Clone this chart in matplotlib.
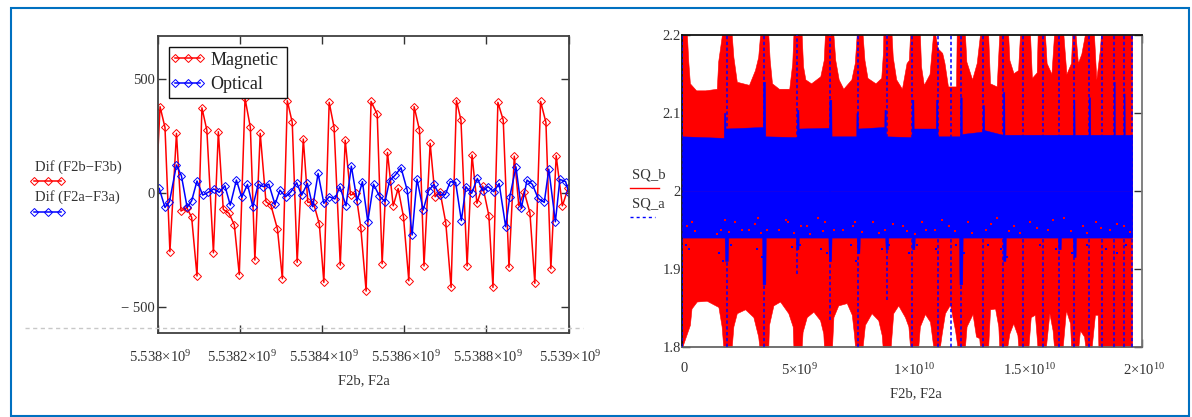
from matplotlib import pyplot as plt
from matplotlib.lines import Line2D
from matplotlib.patches import Rectangle
from matplotlib.transforms import ScaledTranslation

plt.rcParams['font.family'] = ['Liberation Serif', 'DejaVu Serif']
plt.rcParams['mathtext.default'] = 'regular'

W, H = 1192, 417
TEXT = '#333333'

# left chart, x is kHz above 5.538 GHz
red_x = [-13, 5, 17, 29, 45, 56, 70, 82, 95, 107, 119, 135, 147, 159, 173, 186, 198, 212, 225, 236, 249,
         263, 275, 291, 303, 315, 327, 339, 354, 365, 378, 393, 404, 417, 429, 444, 456, 469, 482, 494,
         507, 519, 534, 546, 559, 573, 585, 598, 611, 624, 637, 648, 663, 675, 687, 701, 714, 727, 738,
         753, 765, 777, 791, 806, 816, 828, 841, 855, 868, 879, 892, 906, 918, 932, 945, 957, 970, 985, 999]
red_y = [-300, 379, 288, -257, 262, -79, -64, -107, -364, 374, 276, -262, 269, -72, -89, -140, -358, 415, 288, -294, 262,
         -38, -53, -158, -376, 405, 310, -304, 237, -41, -38, -136, -392, 398, 287, -316, 232, -9, -1, -152,
         -430, 402, 346, -310, 178, -56, 20, -104, -385, 379, 276, -320, 218, -16, 6, -130, -414, 406, 320,
         -320, 167, -45, 31, -99, -414, 398, 320, -326, 162, -56, 6, -86, -396, 402, 310, -332, 164, -56, 20]

blue_x = [3, 17, 28, 45, 57, 71, 82, 95, 109, 122, 136, 149, 163, 176, 191, 204, 218, 231, 244, 257,
          270, 285, 297, 311, 324, 338, 350, 364, 377, 390, 404, 417, 431, 443, 458, 471, 485, 498,
          511, 525, 539, 553, 564, 578, 592, 607, 619, 631, 646, 659, 672, 686, 700, 712, 725, 739,
          750, 764, 778, 791, 804, 818, 831, 847, 857, 872, 885, 899, 912, 926, 941, 952, 968, 979, 993, 1001]
blue_y = [20, -63, -38, 123, 76, -63, -34, 53, -9, 3, 18, 3, 32, -53, 57, -19, 38, -60, 39, 28,
          39, -50, 13, -16, 6, 45, -9, 42, -60, 86, -45, -16, -26, 28, -56, 118, -34, 50,
          -126, 39, -12, -38, 54, 79, 111, 13, -184, 61, -75, 10, 38, -9, -6, 50, 47, -121,
          28, -1, 64, 10, 28, 6, 42, -148, -16, 115, -67, 57, 38, -23, -41, 105, -126, 60, 50, -1]

left_xticks = [0, 200, 400, 600, 800, 1000]
left_xlabels = ['5.538×10$^{9}$', '5.5382×10$^{9}$', '5.5384×10$^{9}$', '5.5386×10$^{9}$', '5.5388×10$^{9}$', '5.539×10$^{9}$']
left_yticks = [-500, 0, 500]
left_ylabels = ['− 500', '0', '500']

# right chart, x is GHz
upper_x = [0, 0.2, 0.26, 0.33, 0.6, 1.0, 1.5, 1.56, 1.72, 2.15, 2.22, 2.37, 2.9, 3.16, 3.3, 3.38, 3.74, 3.8, 3.9, 4.2,
           4.65, 4.78, 4.83, 5.19, 5.25, 5.35, 5.6, 6.0, 6.15, 6.2, 6.57, 6.65, 6.8, 7.0, 7.35, 7.5, 7.58, 7.84, 7.92,
           8.05, 8.4, 8.65, 8.72, 8.74, 9.1, 9.15, 9.3, 9.55, 9.75, 9.85, 9.9, 10.33, 10.38, 10.5, 10.75, 10.9, 11.0,
           11.1, 11.3, 11.4, 11.55, 11.9, 11.93, 12.29, 12.35, 12.6, 12.8, 12.94, 13.3, 13.38, 13.67, 13.74, 13.78,
           14.17, 14.22, 14.4, 14.6, 14.68, 15.12, 15.2, 15.41, 15.45, 15.77, 15.84, 16.05, 16.16, 16.57, 16.7, 16.9,
           16.95, 17.1, 17.2, 17.35, 17.5, 17.9, 18.0, 18.15, 18.2, 19.56]
upper_y = [2.2, 2.2, 2.166, 2.138, 2.129, 2.129, 2.131, 2.166, 2.2, 2.2, 2.172, 2.14, 2.136, 2.155, 2.172, 2.2, 2.2, 2.168, 2.138, 2.131,
           2.131, 2.164, 2.2, 2.2, 2.16, 2.143, 2.138, 2.147, 2.168, 2.2, 2.2, 2.168, 2.143, 2.131, 2.143, 2.164, 2.2, 2.2, 2.168,
           2.145, 2.138, 2.145, 2.176, 2.2, 2.2, 2.172, 2.143, 2.131, 2.164, 2.168, 2.2, 2.2, 2.16, 2.136, 2.15, 2.2, 2.2,
           2.183, 2.177, 2.164, 2.134, 2.134, 2.2, 2.2, 2.166, 2.143, 2.164, 2.2, 2.2, 2.138, 2.134, 2.176, 2.2,
           2.2, 2.168, 2.151, 2.155, 2.2, 2.2, 2.145, 2.152, 2.2, 2.2, 2.164, 2.15, 2.2, 2.2, 2.15, 2.164,
           2.2, 2.2, 2.164, 2.176, 2.2, 2.2, 2.143, 2.18, 2.2, 2.2]

lower_x = [0, 0.33, 0.4, 0.63, 1.06, 1.57, 1.71, 1.78, 2.15, 2.22, 2.37, 2.73, 3.09, 3.3, 3.35, 3.74, 3.77, 3.96, 4.25, 4.61, 4.8, 4.83,
           5.19, 5.23, 5.41, 5.7, 5.99, 6.13, 6.16, 6.51, 6.57, 6.78, 7.15, 7.37, 7.46, 7.51, 7.84, 7.94, 8.23, 8.52, 8.67, 8.71,
           9.06, 9.17, 9.39, 9.68, 9.83, 9.9, 10.26, 10.33, 10.55, 10.77, 10.91, 11.2, 11.28, 11.42, 11.64, 11.86, 11.96,
           12.29, 12.36, 12.62, 12.77, 12.91, 12.94, 13.3, 13.38, 13.6, 13.74, 13.78, 14.13, 14.22, 14.39, 14.57, 14.61,
           15.05, 15.15, 15.33, 15.44, 15.81, 15.96, 16.1, 16.16, 16.54, 16.68, 16.86, 16.9, 17.22, 17.29, 17.47, 17.52,
           17.8, 17.94, 18.06, 18.09, 19.56]
lower_y = [1.8, 1.828, 1.849, 1.858, 1.859, 1.851, 1.826, 1.8, 1.8, 1.826, 1.843, 1.848, 1.838, 1.813, 1.8, 1.8, 1.828, 1.853, 1.858, 1.843, 1.826, 1.8,
           1.8, 1.819, 1.838, 1.845, 1.834, 1.817, 1.8, 1.8, 1.838, 1.853, 1.856, 1.841, 1.817, 1.8, 1.8, 1.828, 1.843, 1.834, 1.815, 1.8,
           1.8, 1.843, 1.853, 1.838, 1.826, 1.8, 1.8, 1.826, 1.842, 1.832, 1.8, 1.8, 1.817, 1.843, 1.854, 1.821, 1.8,
           1.8, 1.826, 1.842, 1.813, 1.811, 1.8, 1.8, 1.848, 1.849, 1.826, 1.8, 1.8, 1.817, 1.83, 1.815, 1.8,
           1.8, 1.838, 1.841, 1.8, 1.8, 1.843, 1.821, 1.8, 1.8, 1.847, 1.83, 1.8, 1.8, 1.821, 1.813, 1.8,
           1.8, 1.841, 1.841, 1.8, 1.8]

band_top_x = [0, 1.8, 1.81, 1.87, 1.88, 3.5, 3.51, 3.6, 3.61, 4.97, 4.98, 5.05, 5.06, 6.38, 6.39, 6.48, 6.49, 7.56, 7.57, 7.63, 7.64, 8.78, 8.79, 8.85, 8.86,
              9.97, 9.98, 10.05, 10.06, 11.02, 11.03, 11.09, 11.1, 12.07, 12.08, 12.15, 12.16, 13.05, 13.06, 13.12, 13.13, 13.93, 13.94, 14.0, 14.01,
              16.99, 17.0, 17.05, 17.06, 17.66, 17.67, 17.73, 17.74, 18.75, 18.76, 18.8, 18.81, 19.18, 19.19, 19.23, 19.24, 19.56]
band_top_y = [2.07, 2.068, 2.1, 2.1, 2.08, 2.082, 2.14, 2.14, 2.07, 2.069, 2.104, 2.104, 2.08, 2.081, 2.117, 2.117, 2.07, 2.07, 2.1, 2.1, 2.08, 2.082, 2.104, 2.104, 2.07,
              2.069, 2.117, 2.117, 2.08, 2.08, 2.117, 2.117, 2.07, 2.07, 2.12, 2.12, 2.073, 2.076, 2.11, 2.11, 2.078, 2.072, 2.127, 2.127, 2.072,
              2.072, 2.117, 2.117, 2.072, 2.072, 2.12, 2.12, 2.072, 2.072, 2.14, 2.14, 2.072, 2.072, 2.125, 2.125, 2.072, 2.072]
band_low_x = [0, 1.84, 1.86, 1.98, 2.0, 3.47, 3.49, 3.61, 3.63, 4.93, 4.95, 5.05, 5.07, 6.35, 6.37, 6.47, 6.49, 7.58, 7.6, 7.7, 7.72, 8.82, 8.84, 8.94, 8.96,
              9.97, 9.99, 10.09, 10.11, 12.03, 12.05, 12.17, 12.19, 13.93, 13.95, 14.05, 14.07, 16.33, 16.35, 16.45, 16.47, 16.98, 17.0, 17.1, 17.12, 19.56]
band_low_y = [1.94, 1.94, 1.91, 1.91, 1.94, 1.94, 1.88, 1.88, 1.94, 1.94, 1.925, 1.925, 1.94, 1.94, 1.91, 1.91, 1.94, 1.94, 1.92, 1.92, 1.94, 1.94, 1.925, 1.925, 1.94,
              1.94, 1.925, 1.925, 1.94, 1.94, 1.88, 1.88, 1.94, 1.94, 1.91, 1.91, 1.94, 1.94, 1.925, 1.925, 1.94, 1.94, 1.915, 1.915, 1.94, 1.94]

spike_x = [0, 1.93, 3.55, 5.0, 6.42, 7.65, 8.88, 10.0, 11.1, 11.68, 12.1, 13.09, 13.96, 14.83, 15.67, 16.39, 17.03, 17.7, 18.26, 18.78, 19.2, 19.55]
spike_low = [1.8, 1.8, 1.8, 1.893, 1.834, 1.8, 1.86, 1.8, 1.8, 1.8, 1.8, 1.8, 1.8, 1.8, 1.8, 1.8, 1.8, 1.8, 1.8, 1.8, 1.8, 1.8]

# red flecks showing through the blue band, blue flecks on the red just under it
speck_x = [0.2, 0.4, 0.55, 1.5, 1.7, 1.85, 2.05, 2.3, 2.6, 2.9, 3.15, 3.3, 3.4, 3.7, 4.2, 4.5, 4.6, 4.85, 5.15, 5.4, 5.55, 5.9, 6.1, 6.2, 6.6, 7.0,
           7.4, 7.5, 7.8, 8.3, 8.55, 8.8, 9.15, 9.6, 9.75, 10.1, 10.4, 10.6, 11.0, 11.3, 11.6, 11.85, 12.4, 12.6, 13.2, 13.4, 13.7, 14.2, 14.4,
           14.7, 15.1, 15.4, 15.9, 16.1, 16.6, 16.9, 17.4, 17.6, 18.0, 18.2, 18.6, 18.9, 19.2, 19.45]
speck_y = [1.955, 1.96, 1.948, 1.945, 1.95, 1.962, 1.947, 1.96, 1.95, 1.95, 1.958, 1.965, 1.946, 1.95, 1.95, 1.962, 1.96, 1.946, 1.955, 1.955, 1.945, 1.965, 1.948, 1.96, 1.95, 1.95,
           1.955, 1.96, 1.947, 1.96, 1.946, 1.95, 1.958, 1.955, 1.948, 1.945, 1.96, 1.95, 1.95, 1.962, 1.955, 1.948, 1.96, 1.946, 1.95, 1.958, 1.965, 1.948, 1.955,
           1.946, 1.96, 1.952, 1.95, 1.962, 1.965, 1.948, 1.955, 1.946, 1.96, 1.952, 1.95, 1.958, 1.955, 1.947]
fleck_x = [0.15, 0.3, 1.6, 1.75, 2.1, 3.25, 3.45, 4.75, 5.1, 6.05, 6.3, 7.35, 7.55, 8.7, 9.0, 9.85, 10.2, 11.05, 11.9, 12.25, 13.3, 13.85, 14.1, 15.55, 16.25, 16.95, 17.6, 18.4, 18.9, 19.3]
fleck_y = [1.93, 1.925, 1.92, 1.91, 1.93, 1.925, 1.915, 1.928, 1.93, 1.925, 1.92, 1.93, 1.91, 1.925, 1.93, 1.92, 1.93, 1.925, 1.93, 1.92, 1.93, 1.925, 1.915, 1.93, 1.925, 1.92, 1.93, 1.925, 1.92, 1.93]

right_xticks = [0, 5, 10, 15, 20]
right_xlabels = ['0', '5×10$^{9}$', '1×10$^{10}$', '1.5×10$^{10}$', '2×10$^{10}$']
right_yticks = [1.8, 1.9, 2.0, 2.1, 2.2]
right_ylabels = ['1.8', '1.9', '2', '2.1', '2.2']


def ax_rect(left, top, right, bottom):
    return [left / W, 1 - bottom / H, (right - left) / W, (bottom - top) / H]


def px_text(x, y, s, **kw):
    fig.text(x / W, 1 - y / H, s, color=TEXT, fontsize=10.5, va='center', **kw)


def px_line(x0, x1, y, **kw):
    mid = (x0 + x1) / 2
    fig.add_artist(Line2D([x0 / W, mid / W, x1 / W], [1 - y / H] * 3, **kw))


def nudge_xlabels(axes, px):
    for label in axes.get_xticklabels():
        label.set_transform(label.get_transform() + ScaledTranslation(px / 100, 0, fig.dpi_scale_trans))


fig = plt.figure(figsize=(W / 100, H / 100), dpi=100)
fig.add_artist(Rectangle((10.5 / W, 1 - 416 / H), 1178.5 / W, 408 / H, fill=False, edgecolor='#0070c0', linewidth=1.5))

# left chart
ax = fig.add_axes(ax_rect(158, 36, 568.5, 333))
marker = dict(marker='D', markersize=3.8, markerfacecolor='none', markeredgewidth=0.7, linewidth=1.1)
ax.plot(red_x, red_y, color='#ff0000', label='Magnetic', **marker)
ax.plot(blue_x, blue_y, color='#0000ff', label='Optical', **marker)
ax.set_xlim(0, 1000)
ax.set_ylim(-614, 689)
ax.set_xticks(left_xticks, left_xlabels)
ax.set_yticks(left_yticks, left_ylabels)
ax.tick_params(direction='in', length=5.5, width=1, top=True, right=True, labelsize=10.5, labelcolor=TEXT, color='#333333')
ax.tick_params(axis='x', pad=11.5)
ax.tick_params(axis='y', pad=2)
nudge_xlabels(ax, 2)
for s in ax.spines.values():
    s.set_color('#404040')
    s.set_linewidth(1.3)

# legend box is wider on the right than the legend's own padding allows, so it is drawn apart
ax.add_patch(Rectangle((169 / W, 1 - 98 / H), 118 / W, 51 / H, transform=fig.transFigure, facecolor='white',
                       edgecolor='#111111', linewidth=1, zorder=4))
leg = ax.legend(loc='upper left', bbox_to_anchor=(9 / 410.5, 1 - 13 / 297), borderaxespad=0, numpoints=3, fontsize=13,
                frameon=False, labelspacing=0.42, handlelength=2.0, handletextpad=0.25, borderpad=0.15, labelcolor='#222222')
leg.set_zorder(5)

# left series names
px_text(35, 167, 'Dif (F2b−F3b)')
px_line(34, 61, 181, color='#ff0000', **marker)
px_text(35, 197, 'Dif (F2a−F3a)')
px_line(34, 61, 212, color='#0000ff', **marker)
px_text(364, 381, 'F2b, F2a', ha='center')
px_line(25, 583, 327.7, color='#c8c8c8', linewidth=1, linestyle=(0, (3, 2.5)))

# right chart
ax2 = fig.add_axes(ax_rect(682.3, 35, 1142.3, 346.7))
ax2.set_axisbelow(True)
ax2.fill_between(upper_x, 2.0, upper_y, color='#ff0000', linewidth=0.4)
ax2.fill_between(lower_x, lower_y, 2.0, color='#ff0000', linewidth=0.4)
ax2.fill_between(band_top_x, 2.0, band_top_y, color='#0000ff', linewidth=0.3, zorder=3)
ax2.fill_between(band_low_x, band_low_y, 2.0, color='#0000ff', linewidth=0.3, zorder=3)
ax2.vlines(spike_x, spike_low, 2.2, color='#0000ff', linewidth=1.1, linestyle=(0, (2.2, 1.6)), zorder=4)
ax2.scatter(speck_x, speck_y, s=2.5, color='#ff0000', marker='s', linewidths=0, zorder=5)
ax2.scatter(fleck_x, fleck_y, s=2.5, color='#0000ff', marker='s', linewidths=0, zorder=5)
ax2.set_xlim(0, 20)
ax2.set_ylim(1.8, 2.2)
ax2.set_xticks(right_xticks, right_xlabels)
ax2.set_yticks(right_yticks, right_ylabels)
ax2.tick_params(direction='in', length=5.5, width=1, top=True, right=True, labelsize=10.5, labelcolor=TEXT, color='#333333')
ax2.tick_params(axis='x', pad=11)
ax2.tick_params(axis='y', pad=1)
nudge_xlabels(ax2, 2)
ax2.spines['left'].set_color('#111111')
ax2.spines['top'].set_color('#111111')
ax2.spines['right'].set_color('#777777')
ax2.spines['bottom'].set_color('#666666')
for s in ax2.spines.values():
    s.set_linewidth(1.3)

px_text(632, 175, 'SQ_b')
px_line(630, 659, 188, color='#ff0000', linewidth=1)
px_text(632, 204, 'SQ_a')
px_line(630, 655, 217, color='#0000ff', linewidth=1, linestyle=(0, (2.2, 2.2)))
px_text(916, 394, 'F2b, F2a', ha='center')

plt.savefig('out.png', dpi=100)
plt.close()
